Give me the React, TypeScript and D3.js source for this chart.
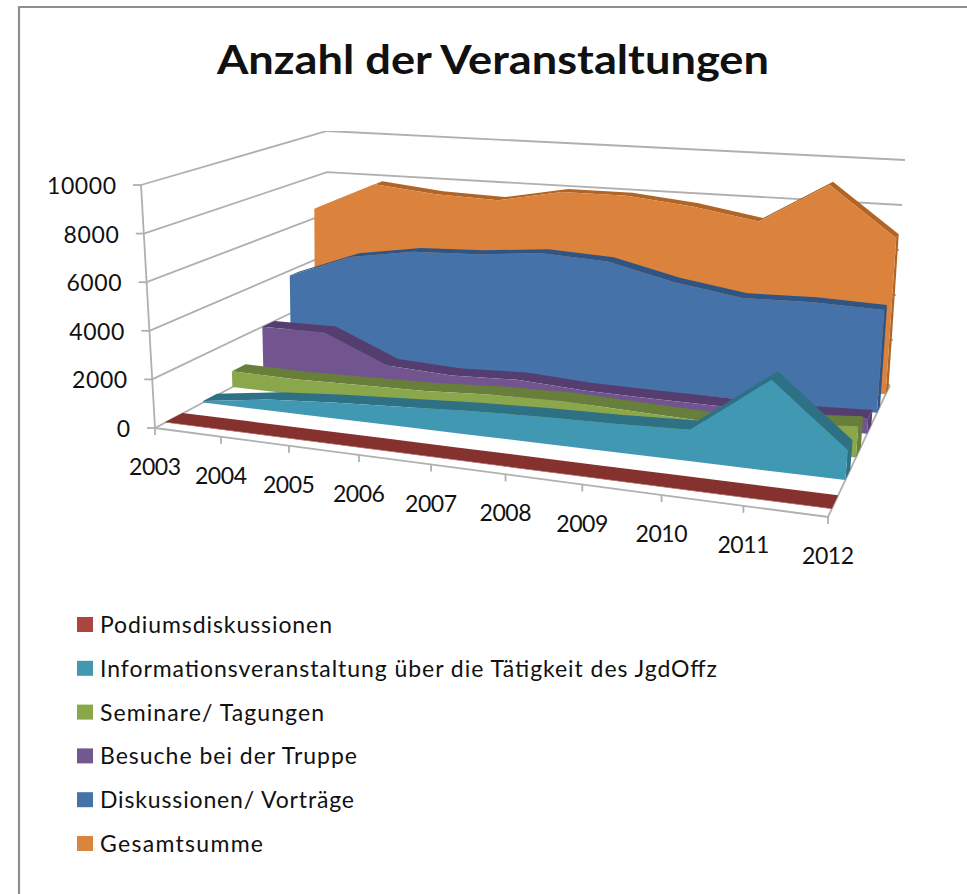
import React from "react";
import * as d3 from "d3";

const years = ["2003","2004","2005","2006","2007","2008","2009","2010","2011","2012"];
const seriesNames = ["Podiumsdiskussionen","Informationsveranstaltung über die Tätigkeit des JgdOffz","Seminare/ Tagungen","Besuche bei der Truppe","Diskussionen/ Vorträge","Gesamtsumme"];
const podium = [20,20,20,20,20,20,20,20,20,20];
const info = [60,450,650,800,950,1050,1100,1200,3400,1100];
const seminare = [700,650,700,750,900,950,850,750,1000,1200];
const besuche = [2000,2000,800,650,750,580,530,500,500,600];
const diskussionen = [3770,4850,5300,5400,5650,5500,4800,4350,4400,4300];
const gesamt = [6450,7800,7500,7400,7950,7950,7650,7150,8950,6800];
const values = [podium,info,seminare,besuche,diskussionen,gesamt];
const yTicks = [0,2000,4000,6000,8000,10000];
const frontColors = ["#953735","#4098b2","#8aa74c","#72558f","#4472a8","#db823c"];
const topColors = ["#85302e","#2f7084","#677f3a","#553e70","#2f5583","#b06526"];
const legendColors = ["#ab4542","#4198af","#8aa74a","#71588f","#4473aa","#db843d"];
const legendWidths = [232,617,224,257,254,163];
const laneFront = [0.06,0.28,0.45,0.63,0.79,0.93];
const laneDepth = [0.1,0.08,0.08,0.07,0.05,0.045];

type P = [number,number];
const lerp=(a:P,b:P,t:number):P=>[a[0]+(b[0]-a[0])*t,a[1]+(b[1]-a[1])*t];
const floorF:[P,P]=[[155,428],[828,517]], floorB:[P,P]=[[327,337],[890,385]];
const ceilF:[P,P]=[[141,185],[851,227]], ceilB:[P,P]=[[327,131],[905,160]];
const uScale = d3.scalePoint<string>().domain(years).range([0,1]);
const hScale = d3.scaleLinear().domain([0,10000]).range([0,1]);
const warp=(u:number,z:number)=>{const r=1.15-0.07*z;return u/(u+r*(1-u));};
const project = (u:number,z:number,val:number):P=>{
  const t=warp(u,z);
  const a=lerp(lerp(floorF[0],floorF[1],t),lerp(floorB[0],floorB[1],t),z);
  const b=lerp(lerp(ceilF[0],ceilF[1],t),lerp(ceilB[0],ceilB[1],t),z);
  return lerp(a,b,hScale(val));
};
const line = d3.line<P>();
const closed = (pts:P[])=>line(pts)+"Z";
const grid="#b0b0b0";
const font="Lato, Carlito, sans-serif";

export default function App(){
  return (
    <svg width={967} height={894} style={{position:"absolute",left:0,top:0,background:"#fff"}} fontFamily={font} fill="#111">
      <defs><filter id="soft" x="0" y="0" width="100%" height="100%"><feGaussianBlur stdDeviation="0.5"/></filter></defs>
      <path d="M19,894V7H967" fill="none" stroke="#8f8f8f" strokeWidth={2.2}/>
      <text x={493} y={74} textAnchor="middle" fontSize={40} fontWeight={700} textLength={552} lengthAdjust="spacingAndGlyphs">Anzahl der Veranstaltungen</text>
      <g filter="url(#soft)">
        {yTicks.map(t=>(
          <path key={t} fill="none" stroke={grid} strokeWidth={1.8} d={line([project(0,0,t),project(0,1,t),project(1,1,t)])!}/>
        ))}
        <path fill="none" stroke={grid} strokeWidth={1.8} d={line([project(0,0,0),project(0,0,10000)])!}/>
        <path fill="none" stroke={grid} strokeWidth={1.8} d={line([project(0,0,0),project(1,0,0),project(1,1,0)])!}/>
        {yTicks.map(t=>{const p=project(0,0,t);return <path key={t} stroke={grid} strokeWidth={1.8} d={`M${p[0]-8},${p[1]}L${p[0]},${p[1]}`}/>;})}
        {years.map(y=>{const p=project(uScale(y)!,0,0);return <path key={y} stroke={grid} strokeWidth={1.8} d={`M${p[0]},${p[1]}L${p[0]},${p[1]+7}`}/>;})}
        {values.map((_,k)=>5-k).map(k=>{
          const vals=values[k],zf=laneFront[k],zb=zf+laneDepth[k];
          const front=years.map((y,i)=>project(uScale(y)!,zf,vals[i]));
          const back=years.map((y,i)=>project(uScale(y)!,zb,vals[i]));
          const base=years.map(y=>project(uScale(y)!,zf,0));
          const end=vals[vals.length-1];
          return <g key={k}>
            <path fill={topColors[k]} d={closed([project(1,zf,0),project(1,zf,end),project(1,zb,end),project(1,zb,0)])}/>
            <path fill={topColors[k]} d={closed([...front,...back.slice().reverse()])}/>
            <path fill={frontColors[k]} d={closed([...front,...base.slice().reverse()])}/>
          </g>;
        })}
      </g>
      {yTicks.map(t=>{const p=project(0,0,t);return <text key={t} x={p[0]-25} y={p[1]+9} textAnchor="end" fontSize={23} textLength={13.8*String(t).length}>{t}</text>;})}
      {years.map(y=>{const p=project(uScale(y)!,0,0);return <text key={y} x={p[0]} y={p[1]+47} textAnchor="middle" fontSize={23} textLength={52}>{y}</text>;})}
      {seriesNames.map((s,i)=>{
        const cy=626+i*43.8;
        return <g key={s}>
          <rect x={77} y={cy-9} width={16} height={15} fill={legendColors[i]}/>
          <text x={100} y={cy+7} fontSize={23} textLength={legendWidths[i]}>{s}</text>
        </g>;
      })}
    </svg>
  );
}
